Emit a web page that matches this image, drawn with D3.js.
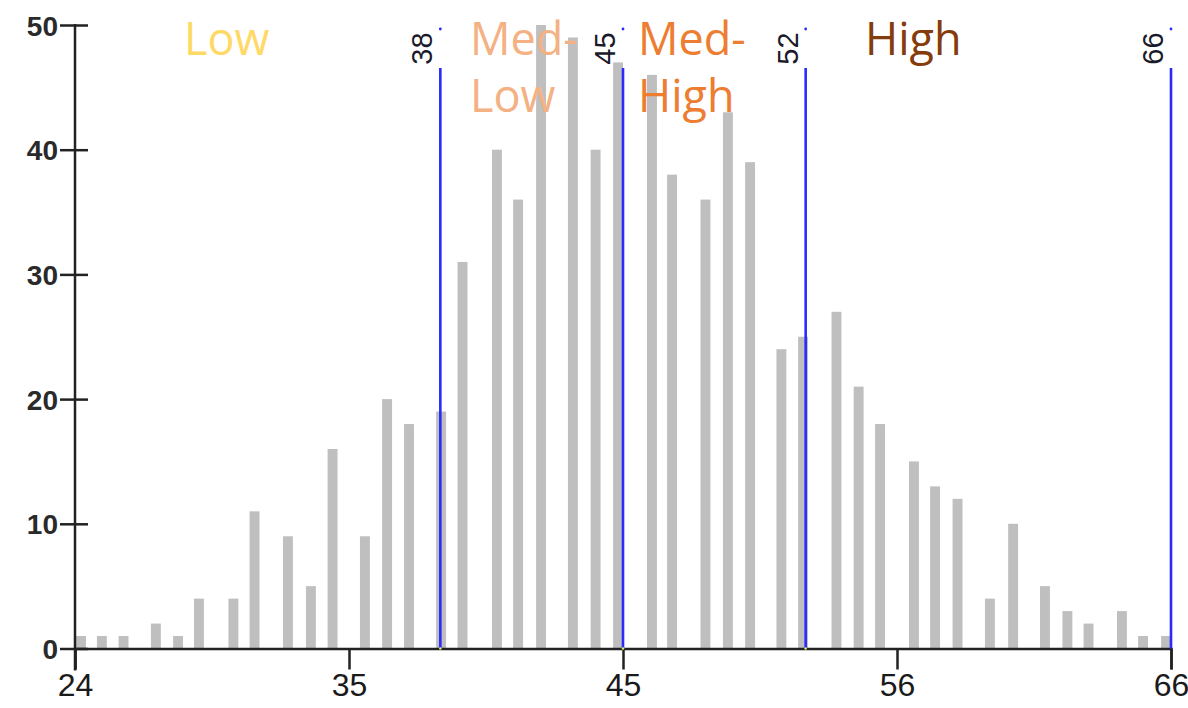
<!DOCTYPE html>
<html>
<head>
<meta charset="utf-8">
<script src="https://cdn.jsdelivr.net/npm/d3@7"></script>
<style>
  html, body { margin: 0; padding: 0; background: #ffffff; }
  svg { display: block; }
</style>
</head>
<body>
<svg id="chart" width="1188" height="708"></svg>
<script>
// ---------- DATA ----------
const binCenters = [24.23, 25.03, 25.86, 27.10, 27.95, 28.75, 30.07, 30.88, 32.16, 33.04, 33.87, 35.11, 35.96, 36.80, 38.03,
                    38.85, 40.17, 40.98, 41.86, 43.08, 43.95, 44.81,
                    46.11, 46.88, 48.16, 49.02, 49.87, 51.07, 51.90,
                    53.18, 54.03, 54.85, 56.15, 56.96, 57.82, 59.06, 59.95, 61.17, 62.03, 62.84, 64.12, 64.93, 65.81];
const binCounts  = [1, 1, 1, 2, 1, 4, 4, 11, 9, 5, 16, 9, 20, 18, 19,
                    31, 40, 36, 50, 49, 40, 47,
                    46, 38, 36, 43, 39, 24, 25,
                    27, 21, 18, 15, 13, 12, 4, 10, 5, 3, 2, 3, 1, 1];
const thresholds = [38, 45, 52, 66];
const xTickValues = [24, 34.5, 45, 55.5, 66];
const xTickLabels = ["24", "35", "45", "56", "66"];
const yTickValues = [0, 10, 20, 30, 40, 50];
const categoryNames  = [["Low"], ["Med-", "Low"], ["Med-", "High"], ["High"]];
const categoryColors = ["#FFD966", "#F4B183", "#ED7D31", "#843C0C"];
const categoryAnchor = [28.25, 39.21, 45.65, 54.35]; // left edge of each label, in x units

// ---------- LAYOUT ----------
const svg = d3.select("#chart");
const x = d3.scaleLinear().domain([24, 66]).range([75, 1171]);
const y = d3.scaleLinear().domain([0, 50]).range([648.5, 25]);
const barW = x(24.38) - x(24);
const axisColor = "#222222";
const lineBlue = "#2a2aff";

// bars
svg.append("g").selectAll("rect")
  .data(binCenters.map((c, i) => ({c, n: binCounts[i]})))
  .join("rect")
  .attr("x", d => x(d.c) - barW / 2)
  .attr("width", barW)
  .attr("y", d => y(d.n))
  .attr("height", d => y(0) - y(d.n))
  .attr("fill", "#bfbfbf");

// y axis
const yAxis = svg.append("g").attr("transform", `translate(${x(24)},0)`)
  .call(d3.axisLeft(y).tickValues(yTickValues).tickSize(15).tickPadding(3).tickFormat(d3.format("d")));
yAxis.select(".domain").remove();
yAxis.selectAll(".tick line").attr("x2", 13).attr("x1", -15).attr("stroke", axisColor).attr("stroke-width", 2.5);
yAxis.selectAll(".tick text")
  .attr("font-family", "'Liberation Sans', Arial, sans-serif")
  .attr("font-size", 28).attr("font-weight", "bold").attr("fill", "#2a2a2a")
  .attr("x", -17).attr("dy", "0.36em");
svg.append("line").attr("x1", x(24)).attr("x2", x(24)).attr("y1", y(50) - 1).attr("y2", y(0) + 22)
  .attr("stroke", axisColor).attr("stroke-width", 2.5);

// x axis
const xAxis = svg.append("g").attr("transform", `translate(0,${y(0)})`)
  .call(d3.axisBottom(x).tickValues(xTickValues).tickSize(21).tickPadding(4)
    .tickFormat((d, i) => xTickLabels[i]));
xAxis.select(".domain").attr("stroke", axisColor).attr("stroke-width", 2.5);
xAxis.selectAll(".tick line").attr("stroke", axisColor).attr("stroke-width", 2.5);
xAxis.selectAll(".tick text")
  .attr("font-family", "'Liberation Sans', Arial, sans-serif")
  .attr("font-size", 32).attr("fill", "#1a1a1a");

// threshold lines
const th = svg.append("g");
th.selectAll("line").data(thresholds).join("line")
  .attr("x1", d => x(d)).attr("x2", d => x(d))
  .attr("y1", 68).attr("y2", y(0))
  .attr("stroke", lineBlue).attr("stroke-width", 2.6);
th.selectAll("circle.top").data(thresholds).join("circle").attr("class", "top")
  .attr("cx", d => x(d)).attr("cy", 29).attr("r", 1.4).attr("fill", lineBlue);
th.selectAll("circle.bot").data(thresholds.slice(0, 3)).join("circle").attr("class", "bot")
  .attr("cx", d => x(d)).attr("cy", y(0)).attr("r", 1.3).attr("fill", "#e8e860");
th.selectAll("text").data(thresholds).join("text")
  .attr("transform", d => `translate(${x(d) - 8},48.5) rotate(-90)`)
  .attr("text-anchor", "middle")
  .attr("font-family", "'Liberation Sans', Arial, sans-serif")
  .attr("font-size", 29).attr("fill", "#1a1a2a")
  .text(d => d);

// category labels
const cat = svg.append("g");
categoryNames.forEach((lines, i) => {
  const t = cat.append("text")
    .attr("x", x(categoryAnchor[i]))
    .attr("y", 55)
    .attr("font-family", "'Open Sans', 'Noto Sans', sans-serif")
    .attr("font-size", 45)
    .attr("fill", categoryColors[i]);
  lines.forEach((ln, j) => {
    t.append("tspan").attr("x", x(categoryAnchor[i]) - 2).attr("dy", j === 0 ? 0 : 57).text(ln);
  });
});
</script>
</body>
</html>
